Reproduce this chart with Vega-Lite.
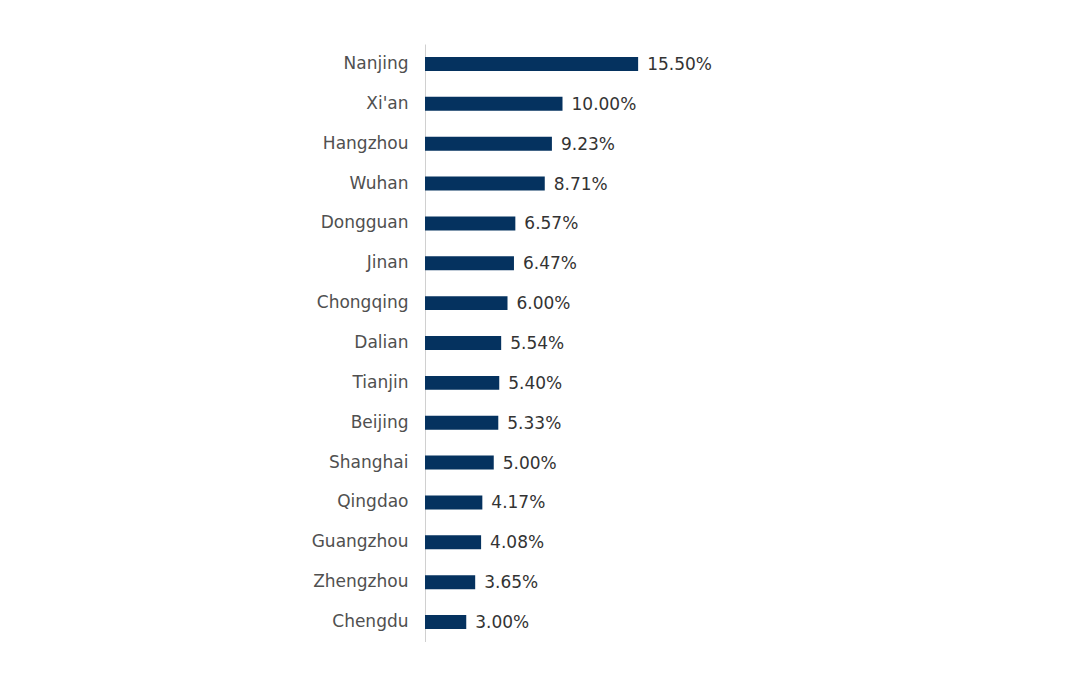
{
  "$schema": "https://vega.github.io/schema/vega-lite/v6.json",
  "autosize": "none",
  "padding": {"left": 425, "top": 44, "right": 0, "bottom": 0},
  "width": 550,
  "height": 598,
  "background": "white",
  "config": {"view": {"stroke": null}, "font": "DejaVu Sans"},
  "data": {
    "values": [
      {"city": "Nanjing", "share": 0.155},
      {"city": "Xi'an", "share": 0.10},
      {"city": "Hangzhou", "share": 0.0923},
      {"city": "Wuhan", "share": 0.0871},
      {"city": "Dongguan", "share": 0.0657},
      {"city": "Jinan", "share": 0.0647},
      {"city": "Chongqing", "share": 0.06},
      {"city": "Dalian", "share": 0.0554},
      {"city": "Tianjin", "share": 0.054},
      {"city": "Beijing", "share": 0.0533},
      {"city": "Shanghai", "share": 0.05},
      {"city": "Qingdao", "share": 0.0417},
      {"city": "Guangzhou", "share": 0.0408},
      {"city": "Zhengzhou", "share": 0.0365},
      {"city": "Chengdu", "share": 0.03}
    ]
  },
  "encoding": {
    "y": {
      "field": "city",
      "type": "nominal",
      "sort": null,
      "scale": {"paddingInner": 0.65, "paddingOuter": 0.325},
      "axis": {
        "title": null,
        "ticks": false,
        "labelPadding": 17,
        "labelFontSize": 17,
        "labelFontWeight": "normal",
        "labelColor": "#505050",
        "domainColor": "#d0d0d0",
        "domainWidth": 1
      }
    },
    "x": {
      "field": "share",
      "type": "quantitative",
      "scale": {"domain": [0, 0.4]},
      "axis": null
    }
  },
  "layer": [
    {"mark": {"type": "bar", "color": "#05325f"}},
    {
      "mark": {"type": "text", "align": "left", "baseline": "middle", "dx": 9, "dy": 1, "fontSize": 17, "color": "#333333"},
      "encoding": {"text": {"field": "share", "type": "quantitative", "format": ".2%"}}
    }
  ]
}
